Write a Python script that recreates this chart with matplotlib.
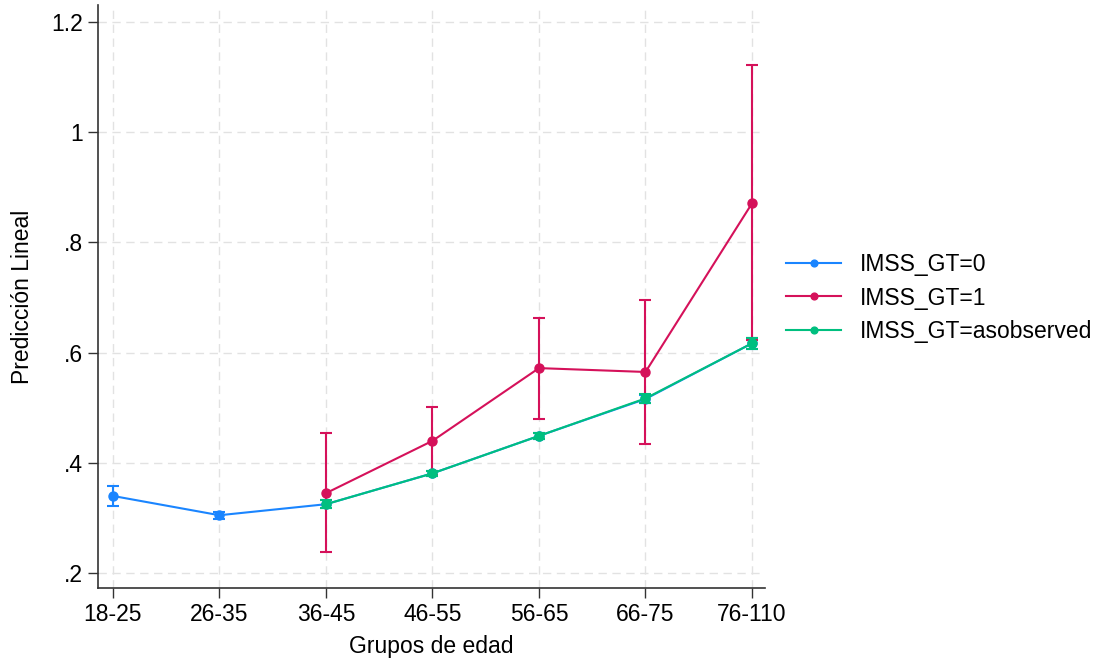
import numpy as np
import matplotlib.pyplot as plt

plt.rcParams['font.family'] = ['Liberation Sans', 'DejaVu Sans']

grupos = ['18-25', '26-35', '36-45', '46-55', '56-65', '66-75', '76-110']

# IMSS_GT=0 : all age groups
pred0 = [0.340, 0.305, 0.325, 0.381, 0.449, 0.516, 0.617]
lo0 = [0.322, 0.299, 0.318, 0.376, 0.444, 0.508, 0.607]
hi0 = [0.358, 0.311, 0.332, 0.386, 0.454, 0.524, 0.627]

# IMSS_GT=1 : from 36-45 on
pred1 = [0.345, 0.440, 0.572, 0.565, 0.871]
lo1 = [0.238, 0.378, 0.479, 0.434, 0.623]
hi1 = [0.454, 0.501, 0.663, 0.695, 1.122]

# IMSS_GT=asobserved : from 36-45 on
predo = [0.325, 0.381, 0.449, 0.517, 0.617]
loo = [0.318, 0.376, 0.444, 0.509, 0.607]
hio = [0.332, 0.386, 0.454, 0.525, 0.627]

c0 = '#1a85ff'
c1 = '#d5115a'
co = '#00bf7f'
fs = 16.5

fig = plt.figure(figsize=(11.1, 6.64), dpi=100)
ax = fig.add_axes([0.0883, 0.1145, 0.6007, 0.878])

x0 = np.arange(len(grupos))
x1 = x0[2:]

def serie(x, y, lo, hi, color, label, z):
    y = np.array(y)
    err = [y - np.array(lo), np.array(hi) - y]
    ax.errorbar(x, y, yerr=err, fmt='none', ecolor=color, elinewidth=1.5,
                capsize=4, capthick=1.5, zorder=z)
    ax.plot(x, y, color=color, lw=1.5, marker='o', ms=6.5, label=label, zorder=z + 0.5)

serie(x0, pred0, lo0, hi0, c0, 'IMSS_GT=0', 3)
serie(x1, pred1, lo1, hi1, c1, 'IMSS_GT=1', 4)
serie(x1, predo, loo, hio, co, 'IMSS_GT=asobserved', 5)

ax.set_xlim(-0.14, 6.12)
ax.set_ylim(0.173, 1.231)
ax.set_xticks(x0)
ax.set_xticklabels(grupos)
yt = [0.2, 0.4, 0.6, 0.8, 1.0, 1.2]
ax.set_yticks(yt)
ax.set_yticklabels(['.2', '.4', '.6', '.8', '1', '1.2'])
ax.tick_params(axis='both', labelsize=fs, length=7, width=1, color='#333333', pad=4)

ax.grid(True, color='#e2e2e2', ls=(0, (6, 4)), lw=1)
ax.set_axisbelow(True)
for s in ['top', 'right']:
    ax.spines[s].set_visible(False)
for s in ['left', 'bottom']:
    ax.spines[s].set_color('#333333')
    ax.spines[s].set_linewidth(1.2)

ax.set_xlabel('Grupos de edad', fontsize=fs, labelpad=6)
ax.set_ylabel('Predicción Lineal', fontsize=fs, labelpad=12)

leg = ax.legend(loc='center left', bbox_to_anchor=(775 / 1110, 1 - 298 / 664),
                bbox_transform=fig.transFigure, frameon=False, borderpad=0,
                fontsize=fs, handlelength=2.4, markerscale=0.75, labelspacing=0.45,
                handletextpad=0.8)

fig.savefig('out.png', dpi=100)
